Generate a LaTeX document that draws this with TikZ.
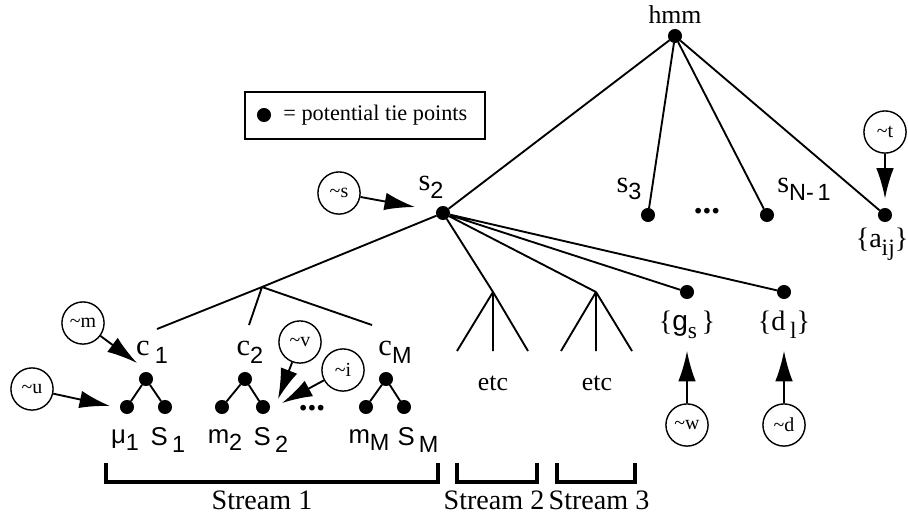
\documentclass[tikz,border=0pt]{standalone}
\usepackage{fontspec}
\setmainfont{Liberation Serif}
\setsansfont{Liberation Sans}
\usetikzlibrary{arrows.meta}
\newcommand{\lowsf}[1]{\raisebox{-0.55ex}{\sffamily\fontsize{10}{10}\selectfont #1}}
\newcommand{\lowrm}[1]{\raisebox{-0.6ex}{\fontsize{10}{10}\selectfont #1}}
\begin{document}
\begin{tikzpicture}[x=0.015cm, y=-0.015cm]
      %% Styles
      \tikzset
      {
      tie/.style={circle, fill, inner sep=0pt, outer sep=0pt, minimum size=6pt},
      tag/.style={circle, draw, line width=0.6pt, inner sep=0pt, minimum size=18pt, font=\fontsize{8.5}{8.5}\selectfont},
      lbl/.style={inner sep=0pt, font=\fontsize{13}{13}\selectfont},
      sflbl/.style={inner sep=0pt, font=\sffamily\fontsize{11}{11}\selectfont},
      bond/.style={line width=0.8pt},
      pointer/.style={line width=0.8pt, -{Latex[length=13pt, width=7.5pt]}},
      bracket/.style={line width=1.3pt},
      ellipsis/.style={inner sep=0pt, font=\bfseries\fontsize{15}{15}\selectfont},
      }
      \useasboundingbox (0,0) rectangle (908,513);
      %% Legend
      \node[draw, line width=0.8pt, minimum width=102.4pt, minimum height=20pt, inner sep=0pt] (legend) at (365,115.5) {};
      \node[tie] (legdot) at (264,115) {};
      \node[inner sep=0pt, font=\fontsize{9.5}{9.5}\selectfont, anchor=west] (legtext) at (283,115) {= potential tie points};
      %% Tie points
      \node[tie] (hmm) at (675,36) {};
      \node[tie] (s2) at (443,213) {};
      \node[tie] (s3) at (648,215) {};
      \node[tie] (sN) at (767,215) {};
      \node[tie] (aij) at (885,215) {};
      \node[tie] (gs) at (687,292) {};
      \node[tie] (d1) at (784,292) {};
      \node[tie] (c1) at (146,379) {};
      \node[tie] (c2) at (245,379) {};
      \node[tie] (cM) at (386,379) {};
      \node[tie] (mu1) at (127,407) {};
      \node[tie] (S1) at (165,407) {};
      \node[tie] (m2) at (222,407) {};
      \node[tie] (S2) at (263,407) {};
      \node[tie] (mM) at (366,407) {};
      \node[tie] (SM) at (404,407) {};
      %% Junctions and free ends
      \coordinate (j1) at (262,287);
      \coordinate (j1a) at (157,329);
      \coordinate (j1b) at (249,325);
      \coordinate (j1c) at (372,325);
      \coordinate (j2) at (493,292);
      \coordinate (j2a) at (457,351);
      \coordinate (j2b) at (493,351);
      \coordinate (j2c) at (528,351);
      \coordinate (j3) at (596,292);
      \coordinate (j3a) at (561,351);
      \coordinate (j3b) at (596,351);
      \coordinate (j3c) at (632,351);
      %% Labels
      \node[inner sep=0pt, font=\fontsize{11}{11}\selectfont] (hmmlbl) at (675,15) {hmm};
      \node[lbl] (s2lbl) at (431,187) {s\lowsf{2}};
      \node[lbl] (s3lbl) at (629,189) {s\lowsf{3}};
      \node[lbl] (sNlbl) at (804,189) {s\lowsf{N-\,1}};
      \node[lbl, font=\fontsize{12}{12}\selectfont] (aijlbl) at (882,244) {\{a\lowrm{ij}\}};
      \node[lbl, font=\fontsize{12}{12}\selectfont] (gslbl) at (687,325) {\{{\sffamily g}\lowrm{s}\,\}};
      \node[lbl, font=\fontsize{12}{12}\selectfont] (d1lbl) at (784,325) {\{d\,\lowrm{l}\}};
      \node[lbl] (c1lbl) at (152,352) {c\,\lowsf{1}};
      \node[lbl] (c2lbl) at (250,352) {c\lowsf{2}};
      \node[lbl] (cMlbl) at (395,352) {c\lowsf{M}};
      \node[sflbl] (mu1lbl) at (125,440) {μ\lowsf{1}};
      \node[sflbl] (S1lbl) at (168,440) {S\,\lowsf{1}};
      \node[sflbl] (m2lbl) at (225,440) {m\lowsf{2}};
      \node[sflbl] (S2lbl) at (271,440) {S\,\lowsf{2}};
      \node[sflbl] (mMlbl) at (369,440) {m\lowsf{M}};
      \node[sflbl] (SMlbl) at (418,440) {S\,\lowsf{M}};
      \node[ellipsis] (dotsA) at (707,211) {...};
      \node[ellipsis] (dotsB) at (312,408) {...};
      \node[inner sep=0pt, font=\fontsize{11}{11}\selectfont] (etc2) at (493,383) {etc};
      \node[inner sep=0pt, font=\fontsize{11}{11}\selectfont] (etc3) at (597,383) {etc};
      %% Bonds
      \draw[bond] (hmm) -- (s2) (hmm) -- (s3) (hmm) -- (sN) (hmm) -- (aij)
      (s2) -- (j1) (s2) -- (j2) (s2) -- (j3) (s2) -- (gs) (s2) -- (d1)
      (j1) -- (j1a) (j1) -- (j1b) (j1) -- (j1c)
      (j2) -- (j2a) (j2) -- (j2b) (j2) -- (j2c)
      (j3) -- (j3a) (j3) -- (j3b) (j3) -- (j3c)
      (c1) -- (mu1) (c1) -- (S1)
      (c2) -- (m2) (c2) -- (S2)
      (cM) -- (mM) (cM) -- (SM);
      %% Tags
      \node[tag] (tagS) at (339,193) {\textasciitilde s};
      \node[tag] (tagT) at (885,132) {\textasciitilde t};
      \node[tag] (tagM) at (83,323) {\textasciitilde m};
      \node[tag] (tagU) at (32,389) {\textasciitilde u};
      \node[tag] (tagV) at (300,342) {\textasciitilde v};
      \node[tag] (tagI) at (343,370) {\textasciitilde i};
      \node[tag] (tagW) at (687,425) {\textasciitilde w};
      \node[tag] (tagD) at (784,425) {\textasciitilde d};
      \coordinate (tipS) at (415,207);
      \coordinate (tipM) at (137,363);
      \coordinate (tipU) at (110,406);
      \coordinate (tipV) at (278,399);
      \coordinate (tipI) at (282,403);
      %% Pointers
      \draw[pointer] (tagS) -- (tipS);
      \draw[pointer, shorten >=4pt] (tagT) -- (aij);
      \draw[pointer] (tagM) -- (tipM);
      \draw[pointer] (tagU) -- (tipU);
      \draw[pointer] (tagV) -- (tipV);
      \draw[pointer] (tagI) -- (tipI);
      \draw[pointer, shorten >=5pt] (tagW) -- (gslbl);
      \draw[pointer, shorten >=5pt] (tagD) -- (d1lbl);
      %% Streams
      \coordinate (b1l) at (106,463); \coordinate (b1r) at (438,463);
      \coordinate (b2l) at (457,463); \coordinate (b2r) at (537,463);
      \coordinate (b3l) at (557,463); \coordinate (b3r) at (635,463);
      \draw[bracket] (b1l) -- ++(0,19) -| (b1r)
      (b2l) -- ++(0,19) -| (b2r)
      (b3l) -- ++(0,19) -| (b3r);
      \node[inner sep=0pt, font=\fontsize{12}{12}\selectfont] (st1) at (262,500) {Stream 1};
      \node[inner sep=0pt, font=\fontsize{12}{12}\selectfont] (st2) at (494,500) {Stream 2};
      \node[inner sep=0pt, font=\fontsize{12}{12}\selectfont] (st3) at (599,500) {Stream 3};
   \end{tikzpicture}
\end{document}
